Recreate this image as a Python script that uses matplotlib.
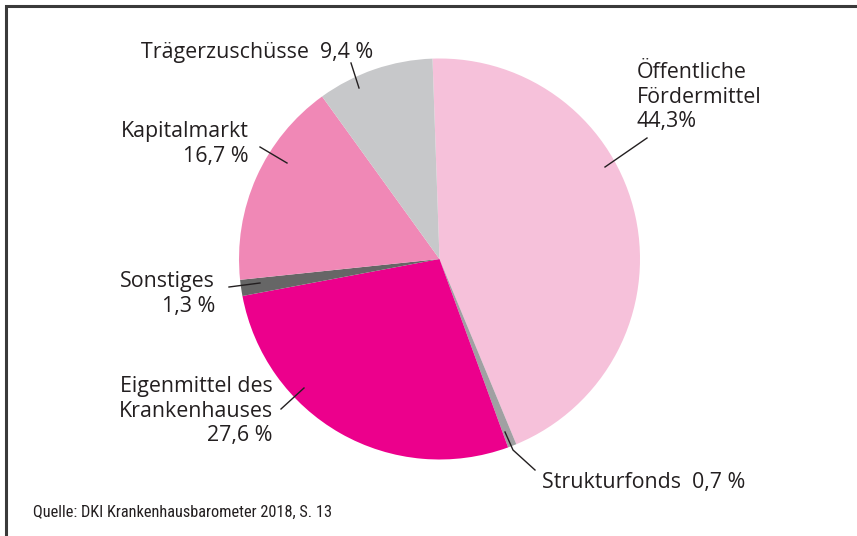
import matplotlib
matplotlib.use("Agg")
import matplotlib.pyplot as plt
from matplotlib.lines import Line2D
from matplotlib import font_manager

categories = ["Öffentliche Fördermittel", "Strukturfonds", "Eigenmittel des Krankenhauses",
              "Sonstiges", "Kapitalmarkt", "Trägerzuschüsse"]
values = [44.3, 0.7, 27.6, 1.3, 16.7, 9.4]
labels = ["Öffentliche\nFördermittel\n44,3%", "Strukturfonds  0,7 %", "Eigenmittel des\nKrankenhauses\n27,6 %",
          "Sonstiges\n1,3 %", "Kapitalmarkt\n16,7 %", "Trägerzuschüsse  9,4 %"]
colors = ["#f6c1da", "#a0a0a2", "#ec008c", "#666666", "#f088b6", "#c7c8ca"]
source = "Quelle: DKI Krankenhausbarometer 2018, S. 13"

W, H = 857, 536
fig = plt.figure(figsize=(W / 100, H / 100), dpi=100)
ax = fig.add_axes([0, 0, 1, 1])

def P(x, y):
    return x, H - y

font = ["Open Sans", "DejaVu Sans"]
names = {f.name for f in font_manager.fontManager.ttflist}
cond_fam = None
for cand in ["Liberation Sans Narrow", "Roboto Condensed", "Open Sans Condensed", "DejaVu Sans Condensed"]:
    if cand in names:
        cond_fam = cand
        break
tc = "#231f20"

ax.pie(values, colors=colors, startangle=92, counterclock=False,
       center=P(439.5, 259), radius=200.5, frame=True,
       wedgeprops=dict(linewidth=0))
ax.set_xlim(0, W)
ax.set_ylim(0, H)
ax.set_aspect("equal")
ax.axis("off")

# frame
ax.add_line(Line2D([6, 6, W], [0, H - 6, H - 6], color="#3a3a3a", lw=2.2, solid_joinstyle="miter"))

fs = 15.4
pitch = 24.7

def label(text, x, y0, ha):
    for i, line in enumerate(text.split("\n")):
        ax.text(*P(x, y0 + i * pitch), line, fontsize=fs, family=font, color=tc,
                ha=ha, va="baseline")

# Öffentliche
label(labels[0], 637, 78, "left")
ax.plot(*zip(P(647, 138), P(605, 167)), color=tc, lw=1)
# Strukturfonds
label(labels[1], 542, 488, "left")
ax.plot(*zip(P(505, 432), P(513, 450), P(535, 470)), color=tc, lw=1)
# Eigenmittel
label(labels[2], 273, 392, "right")
ax.plot(*zip(P(281, 409), P(304, 388)), color=tc, lw=1)
# Sonstiges
label(labels[3], 215, 287, "right")
ax.plot(*zip(P(229, 287), P(260, 283)), color=tc, lw=1)
# Kapitalmarkt
label(labels[4], 249, 137, "right")
ax.plot(*zip(P(260, 147), P(287, 163)), color=tc, lw=1)
# Trägerzuschüsse
label(labels[5], 141, 58, "left")
ax.plot(*zip(P(351, 63), P(359, 88)), color=tc, lw=1)

if cond_fam:
    ax.text(*P(33, 517), source, fontsize=11.8, family=[cond_fam, "DejaVu Sans"], color=tc, ha="left", va="baseline")
else:
    ax.text(*P(33, 517), source, fontsize=11.8, family=["DejaVu Sans"], fontstretch="condensed",
            color=tc, ha="left", va="baseline")

fig.savefig("out.png", dpi=100)
